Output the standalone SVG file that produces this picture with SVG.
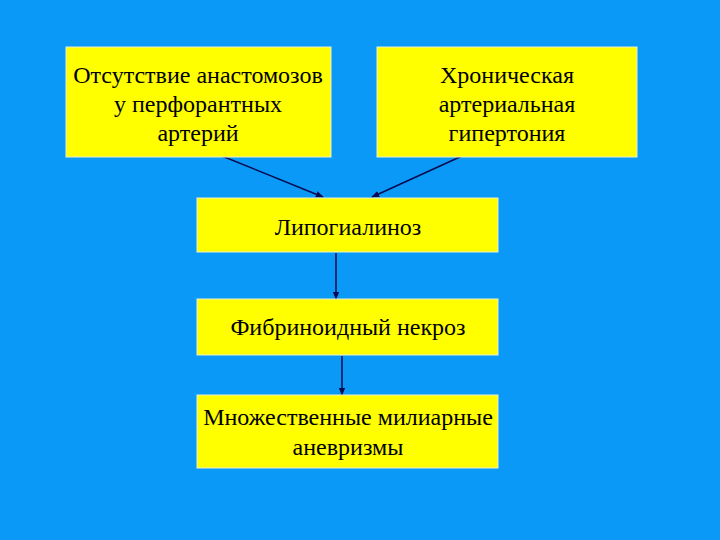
<svg xmlns="http://www.w3.org/2000/svg" width="720" height="540" viewBox="0 0 720 540">
<defs>
<style>
.box{fill:#FFFF00;stroke:#E8F0D0;stroke-width:1}
.t{font-family:"Liberation Serif","Times New Roman",serif;font-size:24px;fill:#000;text-anchor:middle}
.c{stroke:#0A0A50;stroke-width:1.5;fill:none;marker-end:url(#ah)}
</style>
<marker id="ah" viewBox="0 0 10 10" refX="9" refY="5" markerWidth="8" markerHeight="8" orient="auto" markerUnits="userSpaceOnUse">
<path d="M0,1 L10,5 L0,9 z" fill="#0A0A50"/>
</marker>
</defs>
<rect width="720" height="540" fill="#0A99F7"/>
<g id="connectors">
<line class="c" x1="222" y1="156" x2="323" y2="197"/>
<line class="c" x1="462" y1="156" x2="372" y2="197"/>
<line class="c" x1="336" y1="253" x2="336" y2="299"/>
<line class="c" x1="342" y1="356" x2="342" y2="395"/>
</g>
<g id="n1">
<rect class="box" x="66" y="47" width="265" height="110"/>
<text class="t" x="198" y="83">Отсутствие анастомозов</text>
<text class="t" x="198" y="112">у перфорантных</text>
<text class="t" x="198" y="141">артерий </text>
</g>
<g id="n2">
<rect class="box" x="377" y="47" width="260" height="110"/>
<text class="t" x="507" y="83">Хроническая </text>
<text class="t" x="507" y="112">артериальная</text>
<text class="t" x="507" y="141">гипертония</text>
</g>
<g id="n3">
<rect class="box" x="197" y="198" width="301" height="54"/>
<text class="t" x="348" y="235">Липогиалиноз</text>
</g>
<g id="n4">
<rect class="box" x="197" y="299" width="301" height="56"/>
<text class="t" x="348" y="335">Фибриноидный некроз</text>
</g>
<g id="n5">
<rect class="box" x="197" y="395" width="301" height="73"/>
<text class="t" x="348" y="425">Множественные милиарные</text>
<text class="t" x="348" y="455">аневризмы</text>
</g>
</svg>
